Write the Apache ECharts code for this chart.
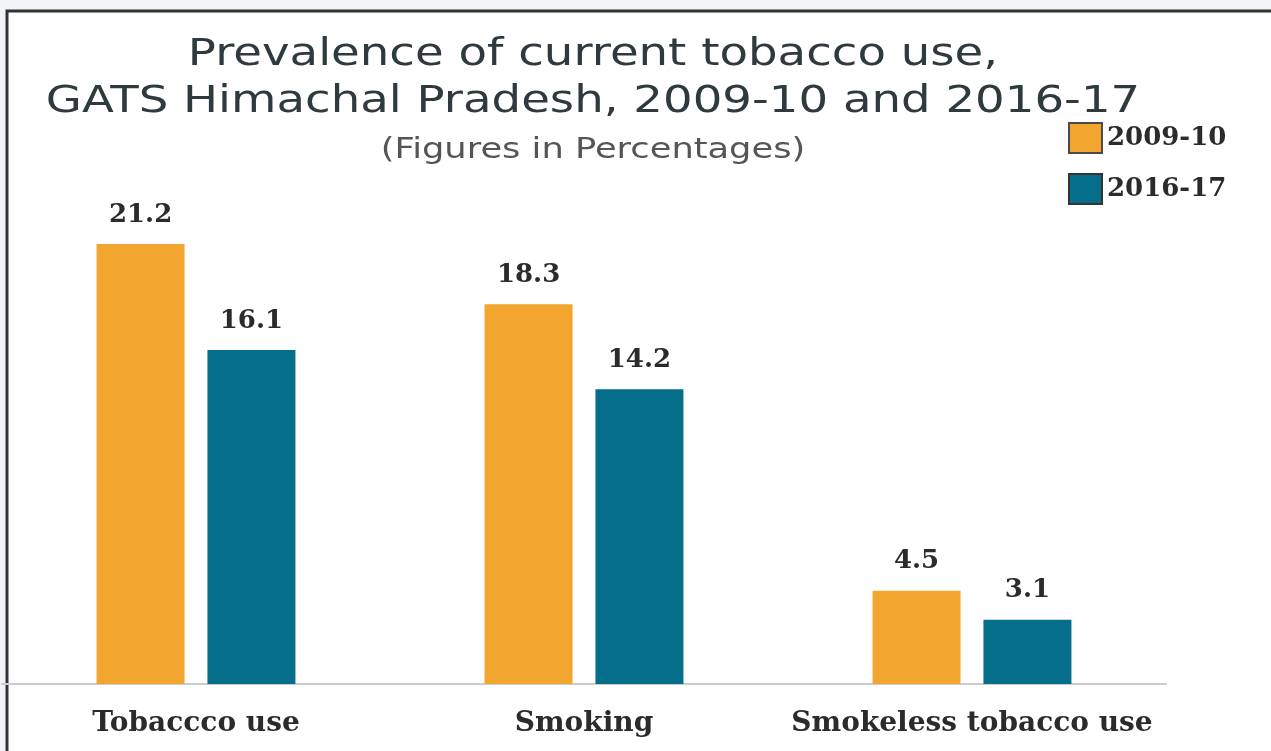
<!DOCTYPE html>
<html>
<head>
<meta charset="utf-8">
<style>html,body{margin:0;padding:0;background:#f1f3f6;}#c{width:1271px;height:751px;}</style>
<script src="https://cdn.jsdelivr.net/npm/echarts@6/dist/echarts.min.js"></script>
</head>
<body>
<div id="c"></div>
<script>
var categories = ['Tobaccco use', 'Smoking', 'Smokeless tobacco use'];
var seriesNames = ['2009-10', '2016-17'];
var values2009 = [21.2, 18.3, 4.5];
var values2016 = [16.1, 14.2, 3.1];
var titleLines = ['Prevalence of current tobacco use,', 'GATS Himachal Pradesh, 2009-10 and 2016-17'];
var subtitle = '(Figures in Percentages)';

var chart = echarts.init(document.getElementById('c'));
var serif = '"DejaVu Serif", "Liberation Serif", serif';
var sans = '"DejaVu Sans", Verdana, sans-serif';
var labelStyle = { show: true, position: 'top', distance: 16, fontFamily: serif, fontWeight: 'bold', fontSize: 26, color: '#2b2b2b' };
function tText(txt, y, size, color, sx) {
  return {
    type: 'text', x: 593, y: y, scaleX: sx, silent: true, z: 10,
    style: { text: txt, x: 0, y: 0, textAlign: 'center', textVerticalAlign: 'top', font: 'normal ' + size + 'px ' + sans, fill: color }
  };
}
chart.setOption({
  backgroundColor: '#f1f3f6',
  animation: false,
  graphic: [{
    type: 'rect', z: -100, silent: true,
    shape: { x: 7, y: 11, width: 1300, height: 800 },
    style: { fill: '#ffffff', stroke: '#333333', lineWidth: 3 }
  },
  tText(titleLines[0], 37, 37, '#2f3a3e', 1.26),
  tText(titleLines[1], 84, 37, '#2f3a3e', 1.26),
  tText(subtitle, 136, 29, '#555555', 1.215)
  ],
  legend: {
    orient: 'vertical', left: 1063, top: 117,
    itemWidth: 33, itemHeight: 30, itemGap: 19,
    icon: 'rect',
    textStyle: { fontFamily: serif, fontWeight: 'bold', fontSize: 26, color: '#2b2b2b' },
    data: [
      { name: seriesNames[0], itemStyle: { color: '#F2A62F', borderColor: '#4a4a4a', borderWidth: 2 } },
      { name: seriesNames[1], itemStyle: { color: '#056E8A', borderColor: '#333', borderWidth: 2 } }
    ]
  },
  grid: { left: 2, width: 1164, top: 103, bottom: 67, containLabel: false },
  xAxis: {
    type: 'category', data: categories,
    axisLine: { lineStyle: { color: '#c9cdd2', width: 2 } },
    axisTick: { show: false },
    axisLabel: { interval: 0, margin: 26, fontFamily: serif, fontWeight: 'bold', fontSize: 28, color: '#2b2b2b' }
  },
  yAxis: { type: 'value', min: 0, max: 28, show: false, splitLine: { show: false } },
  series: [{
    name: seriesNames[0], type: 'bar', data: values2009, barWidth: 88, barGap: '26%',
    itemStyle: { color: '#F2A62F' }, label: labelStyle
  }, {
    name: seriesNames[1], type: 'bar', data: values2016, barWidth: 88,
    itemStyle: { color: '#056E8A' }, label: labelStyle
  }]
});
</script>
</body>
</html>
